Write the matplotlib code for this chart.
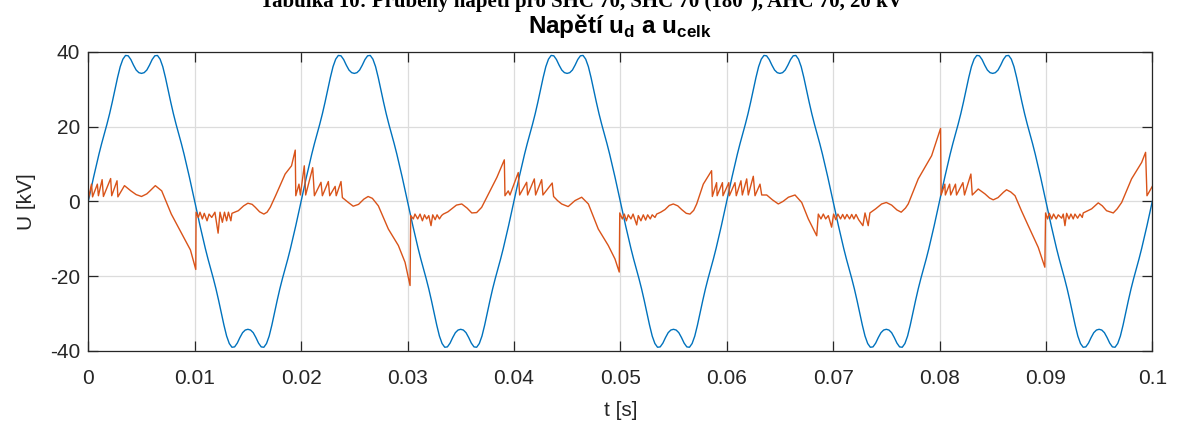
import numpy as np
import matplotlib
matplotlib.use("Agg")
import matplotlib.pyplot as plt

# ---- data -------------------------------------------------------------
# total voltage u_celk: one half-period (0 .. 10 ms, 0.25 ms step), kV
UCELK_HALF_KV = [0.0, 3.3, 6.5, 9.6, 12.6, 15.4, 18.0, 20.6, 23.4, 26.5,
                 29.8, 33.1, 36.0, 38.0, 39.0, 38.9, 37.9, 36.4, 35.1, 34.4,
                 34.2,
                 34.4, 35.1, 36.4, 37.9, 38.9, 39.0, 38.0, 36.0, 33.1, 29.8,
                 26.5, 23.4, 20.6, 18.0, 15.4, 12.6, 9.6, 6.5, 3.3, 0.0]
UCELK_STEP_MS = 0.25
HALF_PERIOD_SIGNS = [1, -1, 1, -1, 1, -1, 1, -1, 1, -1]

# voltage u_d: time (ms) and value (kV)
UD_T_MS = [
    0.0, 0.3, 0.4, 0.85, 0.95, 1.3, 1.42, 2.1, 2.2, 2.7, 2.78, 3.4, 4.0, 4.5,
    5.0, 5.5, 5.8, 6.3, 6.9, 7.8, 8.8, 9.6, 10.1, 10.13,
    10.34, 10.5, 10.72, 10.9, 11.16, 11.35, 11.6, 11.9, 12.2, 12.38, 12.6,
    12.8, 13.0, 13.17, 13.4, 13.5, 14.1, 14.6, 15.0, 15.4, 15.7, 16.1, 16.5,
    16.8, 17.1, 17.6, 18.5, 19.1, 19.45, 19.5,
    19.8, 19.93, 20.3, 20.43, 21.09, 21.25, 21.87, 22.0, 22.56, 22.69, 23.2,
    23.3, 23.75, 23.88, 24.44, 24.9, 25.4, 25.9, 26.3, 26.7, 27.26, 28.2,
    29.14, 29.77, 30.24, 30.3,
    30.55, 30.7, 30.96, 31.18, 31.4, 31.6, 31.8, 32.0, 32.21, 32.37, 32.6,
    32.78, 33.0, 33.2, 33.37, 33.8, 34.15, 34.6, 35.1, 35.6, 36.04, 36.5,
    36.97, 37.6, 38.4, 39.1, 39.16,
    39.47, 39.63, 40.41, 40.54, 41.2, 41.29, 41.92, 42.04, 42.61, 42.73,
    43.6, 43.73, 44.1, 44.49, 45.1, 45.74, 46.37, 47.0, 47.93, 48.87, 49.5,
    49.9, 49.95,
    50.19, 50.38, 50.57, 50.75, 51.0, 51.2, 51.54, 51.69, 51.94, 52.16,
    52.38, 52.57, 52.82, 53.0, 53.26, 53.42, 53.8, 54.2, 54.6, 54.98, 55.4,
    55.77, 56.2, 56.55, 56.9, 57.18, 57.8, 58.58, 58.65,
    59.05, 59.1, 59.6, 59.65, 60.2, 60.25, 60.78, 60.9, 61.34, 61.47, 61.88,
    62.03, 62.5, 62.66, 63.13, 63.29, 63.76, 64.3, 64.85, 65.3, 65.8, 66.42,
    67.05, 67.67, 68.46, 68.61,
    68.86, 69.08, 69.3, 69.55, 69.86, 70.05, 70.25, 70.45, 70.7, 70.9, 71.1,
    71.3, 71.55, 71.75, 71.95, 72.15, 72.4, 72.8, 73.0, 73.3, 73.46, 74.0,
    74.56, 75.0, 75.5, 76.0, 76.4, 76.8, 77.06, 78.0, 79.26, 80.1, 80.15,
    80.5, 80.55, 80.95, 81.05, 81.5, 81.6, 82.2, 82.35, 82.95, 83.08, 83.64,
    84.27, 84.7, 85.05, 85.5, 86.0, 86.3, 86.7, 87.1, 87.7, 88.34, 89.28,
    89.9, 89.97,
    90.16, 90.32, 90.54, 90.72, 90.97, 91.16, 91.48, 91.63, 91.79, 91.95,
    92.17, 92.35, 92.57, 92.73, 92.98, 93.2, 93.42, 93.51, 94.3, 94.92, 95.3,
    95.7, 96.33, 96.7, 97.12, 98.05, 99.0, 99.37, 99.5, 100.0,
]
UD_KV = [
    0.6, 4.6, 1.2, 4.6, 1.5, 5.8, 1.3, 6.1, 1.5, 5.5, 1.2, 4.2, 2.8, 1.8,
    1.3, 2.0, 2.8, 4.2, 2.8, -3.4, -8.7, -13.0, -18.2, -2.9,
    -4.3, -2.9, -4.7, -3.2, -5.2, -3.4, -4.3, -2.9, -8.5, -2.9, -5.6,
    -2.9, -5.2, -2.9, -5.2, -3.2, -2.5, -1.2, -0.5, -0.8, -1.6, -2.8, -3.4,
    -2.9, -1.6, 1.5, 7.3, 9.5, 13.7, 1.5,
    4.6, 1.7, 9.5, 1.7, 9.0, 1.5, 5.1, 1.5, 5.3, 1.5, 4.0,
    1.5, 5.3, 1.0, -0.3, -1.3, -0.8, 0.6, 1.3, 0.8, -1.2, -7.4,
    -11.8, -16.3, -22.5, -3.8,
    -4.7, -3.4, -4.7, -3.4, -5.2, -3.6, -4.7, -3.8, -6.5, -3.6, -4.9,
    -3.6, -4.7, -3.8, -3.4, -2.8, -2.0, -1.0, -0.7, -1.8, -3.1, -3.0,
    -1.6, 1.9, 6.4, 11.1, 1.5,
    2.8, 1.7, 7.7, 1.7, 5.1, 1.7, 6.0, 1.7, 5.8, 1.7,
    4.9, 1.3, 0.2, -0.7, -1.4, 0.2, 1.1, -0.7, -7.4, -11.8, -15.4,
    -18.9, -3.1,
    -4.7, -3.4, -5.2, -3.6, -4.7, -3.4, -6.3, -3.8, -5.2, -3.6,
    -5.0, -3.6, -4.7, -3.6, -4.3, -3.4, -2.9, -2.2, -1.1, -0.7, -1.2,
    -2.2, -3.2, -3.4, -2.4, -0.7, 4.6, 8.2, 1.3,
    5.0, 1.5, 5.0, 1.5, 5.0, 1.5, 5.0, 1.5, 5.5, 1.7, 6.0,
    1.7, 6.7, 1.5, 4.6, 1.7, 1.7, 0.4, -0.7, 0.0, 1.1, 1.7,
    -0.3, -4.7, -9.2, -3.4,
    -4.7, -3.4, -4.7, -3.8, -6.9, -3.4, -4.9, -3.4, -4.7, -3.5, -4.7,
    -3.5, -4.7, -3.5, -4.7, -3.5, -4.9, -6.5, -3.1, -6.5, -3.1, -2.0,
    -0.7, -0.3, -1.0, -2.3, -2.9, -1.8, -0.7, 6.0, 12.2, 19.5, 1.7,
    4.6, 1.7, 4.6, 1.7, 4.6, 1.7, 5.0, 1.7, 7.3, 1.7, 3.3,
    2.0, 0.9, 0.4, 1.0, 2.4, 3.1, 2.5, 1.5, -2.5, -6.5, -12.3,
    -17.6, -3.1,
    -4.7, -3.2, -4.7, -3.4, -4.7, -3.6, -4.5, -3.4, -6.5, -3.2,
    -4.7, -3.4, -4.7, -3.4, -4.5, -3.4, -4.3, -3.1, -2.0, -0.4, -1.2,
    -2.5, -3.1, -2.0, -0.3, 6.0, 10.4, 13.1, 1.5, 4.0,
]

X_TICKS = [0, 0.01, 0.02, 0.03, 0.04, 0.05, 0.06, 0.07, 0.08, 0.09, 0.1]
X_TICK_LABELS = ["0", "0.01", "0.02", "0.03", "0.04", "0.05", "0.06",
                 "0.07", "0.08", "0.09", "0.1"]
Y_TICKS = [-40, -20, 0, 20, 40]
Y_TICK_LABELS = ["-40", "-20", "0", "20", "40"]

# ---- assemble the series ---------------------------------------------
half = np.asarray(UCELK_HALF_KV)
u_celk = np.concatenate([s * half[:-1] for s in HALF_PERIOD_SIGNS] + [half[-1:]])
t_celk = np.arange(len(u_celk)) * UCELK_STEP_MS / 1000.0

t_d = np.asarray(UD_T_MS) / 1000.0
u_d = np.asarray(UD_KV)

# ---- figure -----------------------------------------------------------
plt.rcParams["font.family"] = ["Liberation Sans", "DejaVu Sans"]
plt.rcParams["mathtext.fontset"] = "custom"
plt.rcParams["mathtext.rm"] = "Liberation Sans"
plt.rcParams["mathtext.bf"] = "Liberation Sans:bold"
DARK = "#262626"

W, H = 1178, 428
fig = plt.figure(figsize=(W / 100, H / 100), dpi=100)
ax_left, ax_right, ax_top, ax_bottom = 88.3, 1152.3, 51.7, 351.0
ax = fig.add_axes([ax_left / W, 1 - ax_bottom / H,
                   (ax_right - ax_left) / W, (ax_bottom - ax_top) / H])

ax.plot(t_celk, u_celk, color="#0072BD", lw=1.0)
ax.plot(t_d, u_d, color="#D95319", lw=1.0)

ax.set_xlim(0, 0.1)
ax.set_ylim(-40, 40)
ax.set_xticks(X_TICKS)
ax.set_xticklabels(X_TICK_LABELS)
ax.set_yticks(Y_TICKS)
ax.set_yticklabels(Y_TICK_LABELS)

ax.grid(True, color="#dcdcdc", lw=0.9)
ax.set_axisbelow(True)
for sp in ax.spines.values():
    sp.set_color(DARK)
    sp.set_linewidth(0.9)
ax.tick_params(direction="in", length=7, width=0.9, colors=DARK,
               labelsize=15, top=True, right=True)
ax.tick_params(axis="x", pad=13)
ax.tick_params(axis="y", pad=6)

ax.set_xlabel("t [s]", fontsize=15, color=DARK, labelpad=9)
ax.set_ylabel("U [kV]", fontsize=15, color=DARK, labelpad=10)

# title, baseline placed just above the plotting area
title_base = 1 + (ax_top - 33.0) / (ax_bottom - ax_top)
ax.text(0.5, title_base, r"Napětí u$_\mathbf{d}$ a u$_\mathbf{celk}$",
        transform=ax.transAxes, ha="center", va="baseline", fontsize=17.5,
        fontweight="bold", color="black")

fig.text(581 / W, 1 - 7.0 / H,
         "Tabulka 10: Průběhy napětí pro SHC 70, SHC 70 (180°), AHC 70, 20 kV",
         ha="center", va="baseline", fontsize=15, fontweight="bold",
         family=["Liberation Serif", "DejaVu Serif"])

fig.savefig("out.png", dpi=100)
